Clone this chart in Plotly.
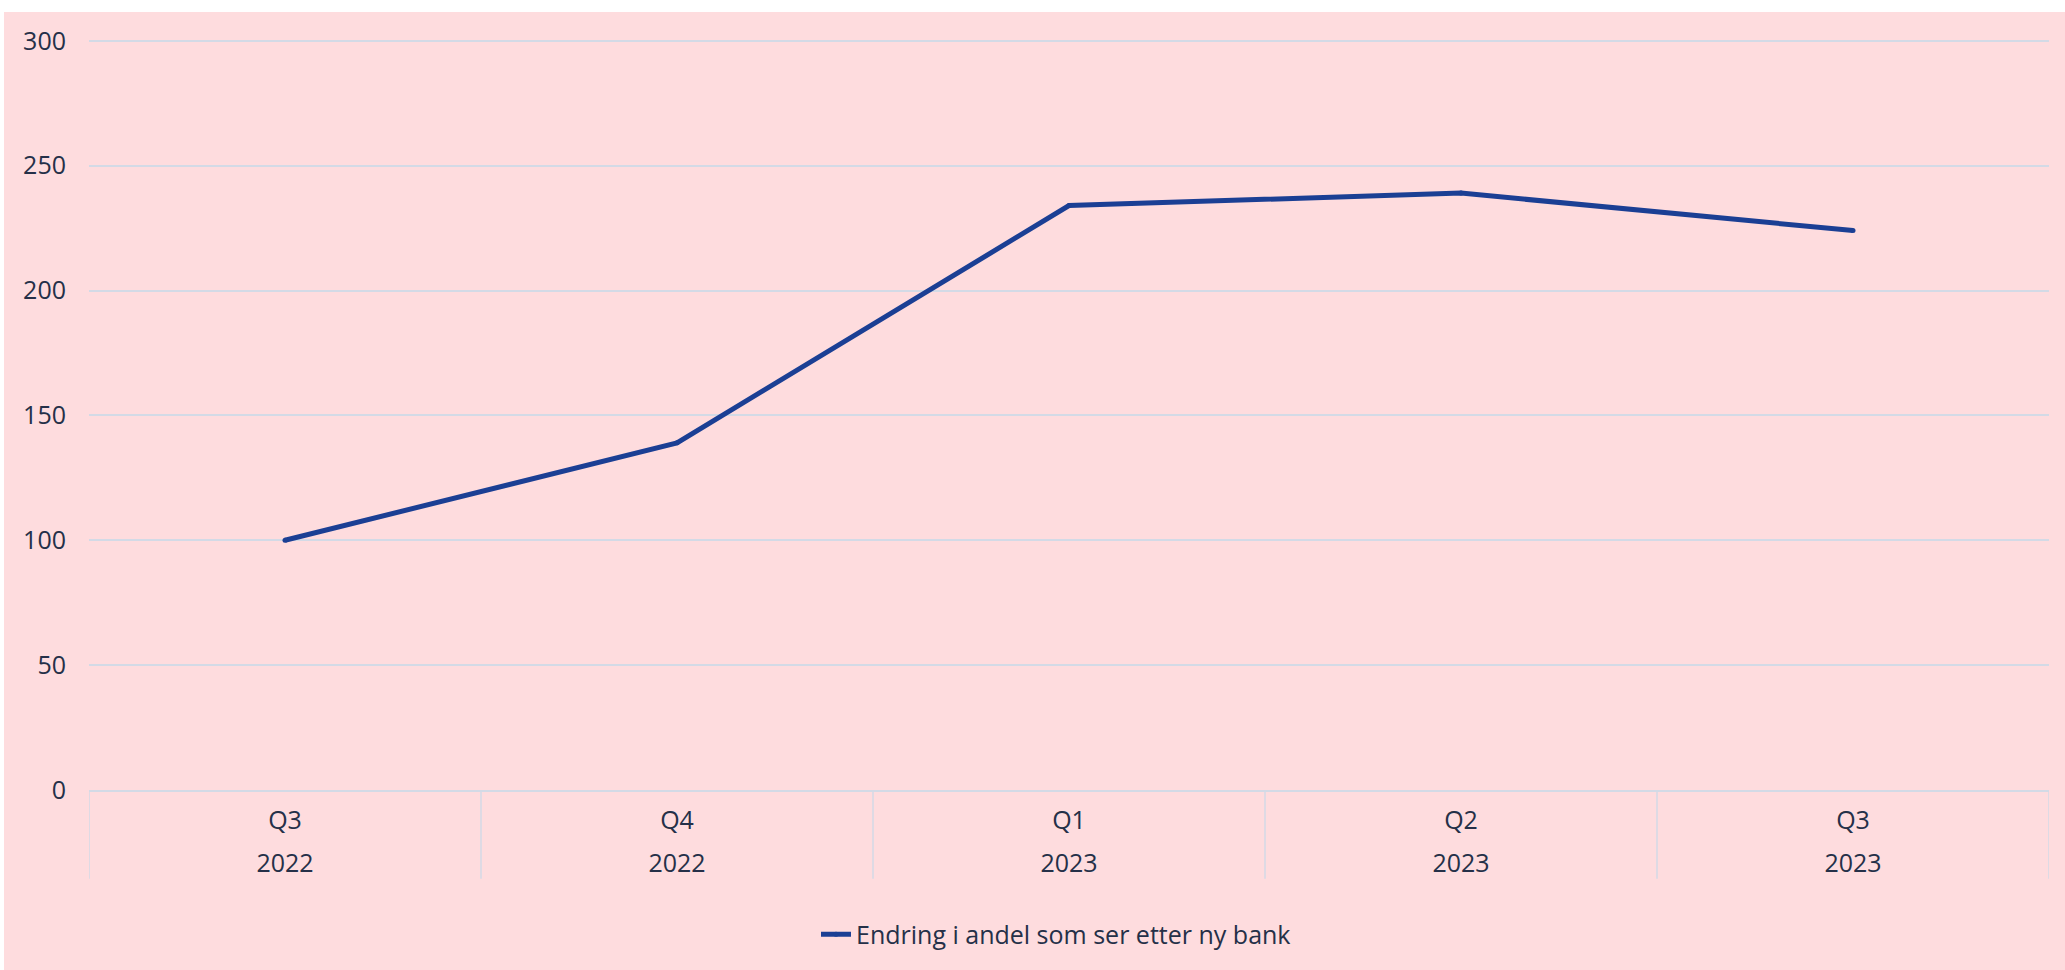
import plotly.graph_objects as go

# Quarterly index of the share of customers looking for a new bank
categories = ["Q3 2022", "Q4 2022", "Q1 2023", "Q2 2023", "Q3 2023"]
quarter_labels = ["Q3", "Q4", "Q1", "Q2", "Q3"]
year_labels = ["2022", "2022", "2023", "2023", "2023"]
values = [100, 139, 234, 239, 224]
series_name = "Endring i andel som ser etter ny bank"
y_ticks = [0, 50, 100, 150, 200, 250, 300]

PINK = "#FEDCDE"
GRID = "#D3DAE6"
LINE = "#1B3F94"
TEXT = "#253048"
FONT = "Open Sans"

W, H = 2065, 970
M_L, M_R, M_T, M_B = 89, 16, 39, 177
plot_h = H - M_T - M_B

fig = go.Figure()
fig.add_trace(go.Scatter(
    x=categories, y=values, name=series_name, mode="lines+markers",
    line=dict(color=LINE, width=5), marker=dict(color=LINE, size=5),
    xaxis="x", yaxis="y",
))
# transparent copy so the year row axis gets rendered
fig.add_trace(go.Scatter(
    x=categories, y=values, mode="lines", line=dict(color="rgba(0,0,0,0)"),
    showlegend=False, hoverinfo="skip", xaxis="x2", yaxis="y",
))

# pink card behind the chart, leaving a thin white strip top and left
shapes = [dict(
    type="rect", xref="paper", yref="paper", layer="below",
    x0=(4 - M_L) / (W - M_L - M_R), x1=(W + 20 - M_L) / (W - M_L - M_R),
    y0=-(H - M_T - plot_h + 20) / plot_h, y1=(plot_h + M_T - 12) / plot_h,
    fillcolor=PINK, line=dict(width=0),
)]
# category dividers below the baseline
div_len = 89 / plot_h
for i in range(len(categories) + 1):
    shapes.append(dict(
        type="line", xref="x", yref="paper", x0=i - 0.5, x1=i - 0.5,
        y0=0, y1=-div_len, line=dict(color=GRID, width=1.5),
    ))

axis_common = dict(
    type="category", categoryorder="array", categoryarray=categories,
    range=[-0.5, len(categories) - 0.5], tickvals=categories,
    showgrid=False, zeroline=False, ticks="",
    tickfont=dict(family=FONT, size=25, color=TEXT),
)

fig.update_layout(
    width=W, height=H,
    margin=dict(l=M_L, r=M_R, t=M_T, b=M_B, pad=0),
    paper_bgcolor="white", plot_bgcolor="rgba(0,0,0,0)",
    font=dict(family=FONT, size=25, color=TEXT),
    xaxis=dict(**axis_common, ticktext=quarter_labels, showline=True,
               linecolor=GRID, linewidth=2, ticklabelstandoff=7),
    xaxis2=dict(**axis_common, ticktext=year_labels, overlaying="x",
                side="bottom", anchor="y", showline=False,
                ticklabelstandoff=56),
    yaxis=dict(range=[0, 300.7], tickvals=y_ticks, showgrid=True,
               gridcolor=GRID, gridwidth=2, zeroline=False, showline=False,
               ticks="outside", ticklen=17, tickcolor="rgba(0,0,0,0)",
               tickfont=dict(family=FONT, size=25, color=TEXT)),
    legend=dict(orientation="h", x=(816 - M_L) / (W - M_L - M_R),
                xanchor="left", y=-(938 - M_T - plot_h) / plot_h,
                yanchor="middle", bgcolor="rgba(0,0,0,0)",
                font=dict(family=FONT, size=25, color=TEXT)),
    shapes=shapes,
    showlegend=True,
)

fig.write_html("out.html")
